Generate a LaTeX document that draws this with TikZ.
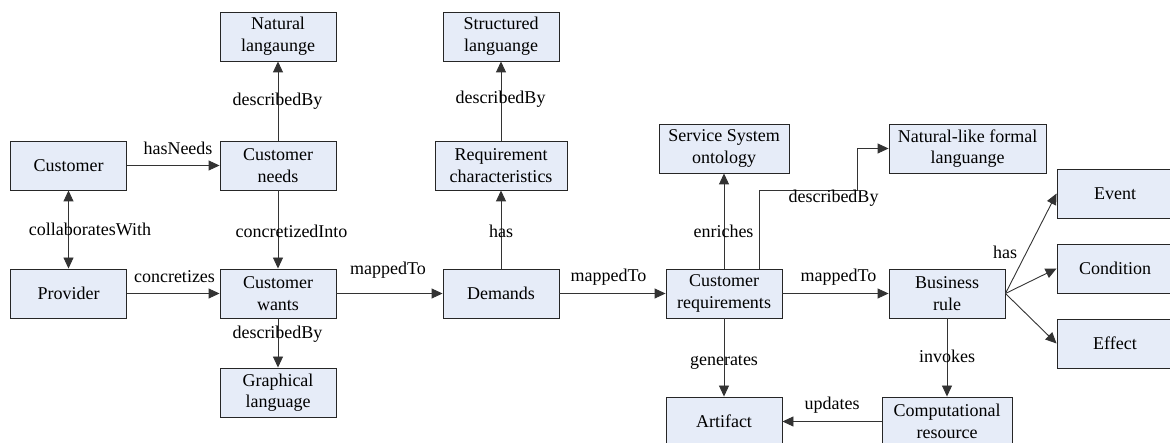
\documentclass[tikz,border=0pt]{standalone}
\usepackage{fontspec}
\setmainfont{Liberation Serif}
\newfontfamily\diagfont{Liberation Serif}
\usetikzlibrary{arrows.meta}
\definecolor{boxfill}{RGB}{230,236,248}
\tikzstyle{box} = [draw=black!85, fill=boxfill, line width=0.9pt, minimum width=116pt, minimum height=49pt, align=center, inner sep=2pt]
\tikzstyle{arrow} = [line width=0.9pt, draw=black!80, ->, >={Triangle[length=11pt,width=10pt]}]
\tikzstyle{lbl} = [inner sep=0pt]

\begin{document}
\begin{tikzpicture}[x=1pt, y=-1pt, font=\diagfont\fontsize{18}{21.6}\selectfont]
\clip (0,0) rectangle (1170,443);
\node[box] (natlang) at (278,36.5) {Natural\\langaunge};
\node[box] (customer) at (68.5,165.5) {Customer};
\node[box] (custneeds) at (278,165.5) {Customer\\needs};
\node[box] (provider) at (68.5,293.5) {Provider};
\node[box] (custwants) at (278,293.5) {Customer\\wants};
\node[box] (graphlang) at (278,392.5) {Graphical\\language};
\node[box] (structlang) at (501,36.5) {Structured\\languange};
\node[box, minimum width=132pt] (reqchar) at (501,165.5) {Requirement\\characteristics};
\node[box] (demands) at (501,293.5) {Demands};
\node[box, minimum width=130pt] (ssont) at (724,148.5) {Service System\\ontology};
\node[box] (custreq) at (724,293.5) {Customer\\requirements};
\node[box] (artifact) at (724,421.5) {Artifact};
\node[box, minimum width=157pt] (natformal) at (967.5,148.5) {Natural-like formal\\languange};
\node[box] (busrule) at (947,293.5) {Business\\rule};
\node[box, minimum width=130pt] (comp) at (947,421.5) {Computational\\resource};
\node[box] (event) at (1115,193.5) {Event};
\node[box] (condition) at (1115,268.5) {Condition};
\node[box] (effect) at (1115,343.5) {Effect};

\draw[arrow] (customer) -- (custneeds);
\draw[arrow, <->] (customer) -- (provider);
\draw[arrow] (custneeds) -- (natlang);
\draw[arrow] (custneeds) -- (custwants);
\draw[arrow] (provider) -- (custwants);
\draw[arrow] (custwants) -- (demands);
\draw[arrow] (custwants) -- (graphlang);
\draw[arrow] (reqchar) -- (structlang);
\draw[arrow] (demands) -- (reqchar);
\draw[arrow] (demands) -- (custreq);
\draw[arrow] (custreq) -- (ssont);
\draw[arrow] (custreq) -- (artifact);
\draw[arrow] (custreq.north -| 759.5,0) |- (857,190) |- (natformal.west);
\draw[arrow] (custreq) -- (busrule);
\draw[arrow] (busrule.east) -- (event.west);
\draw[arrow] (busrule.east) -- (condition.west);
\draw[arrow] (busrule.east) -- (effect.west);
\draw[arrow] (busrule) -- (comp);
\draw[arrow] (comp) -- (artifact);

\node[lbl] (l-hasneeds) at (178,148) {hasNeeds};
\node[lbl] (l-collab) at (90,229) {collaboratesWith};
\node[lbl] (l-descr1) at (277.5,101) {describedBy};
\node[lbl] (l-concinto) at (291.5,231) {concretizedInto};
\node[lbl] (l-concr) at (174.5,277) {concretizes};
\node[lbl] (l-mapped1) at (388,270) {mappedTo};
\node[lbl] (l-descr2) at (277.5,334) {describedBy};
\node[lbl] (l-descr3) at (500.5,99) {describedBy};
\node[lbl] (l-has1) at (501,231) {has};
\node[lbl] (l-mapped2) at (608.5,277) {mappedTo};
\node[lbl] (l-enriches) at (723.5,231) {enriches};
\node[lbl] (l-generates) at (724,362) {generates};
\node[lbl] (l-descr4) at (833.5,198) {describedBy};
\node[lbl] (l-mapped3) at (838.5,277) {mappedTo};
\node[lbl] (l-has2) at (1005,252) {has};
\node[lbl] (l-invokes) at (947,356) {invokes};
\node[lbl] (l-updates) at (832,405) {updates};
\end{tikzpicture}
\end{document}
